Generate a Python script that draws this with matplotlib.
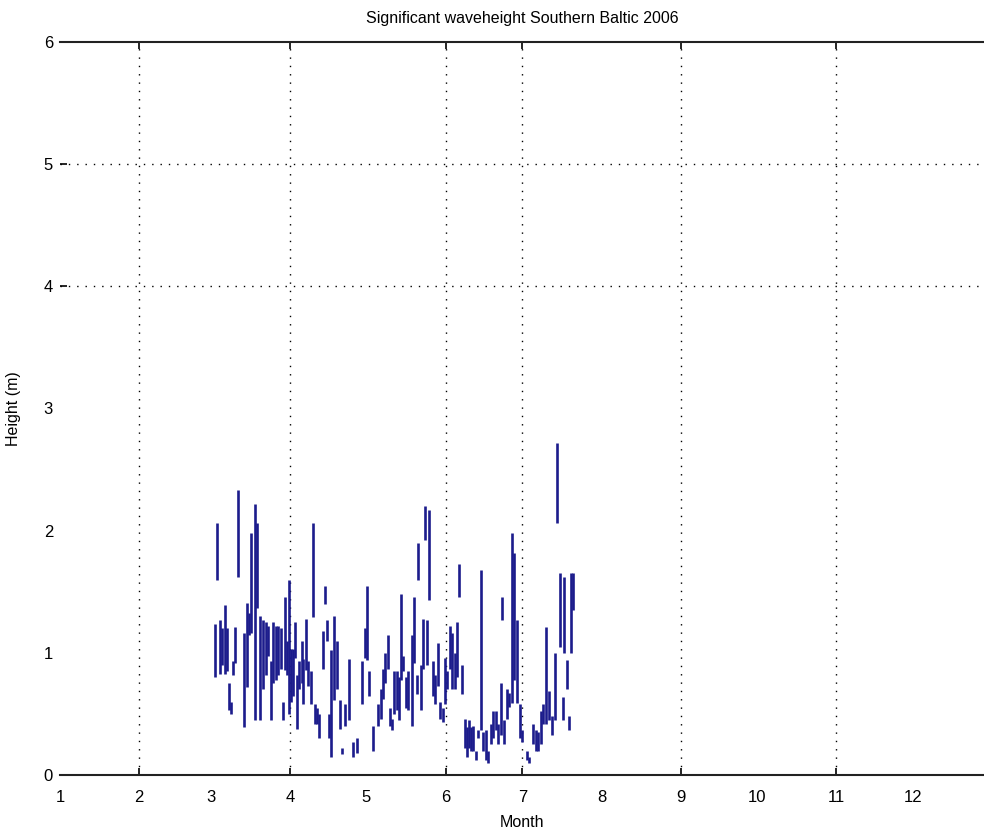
import numpy as np
import matplotlib.pyplot as plt

# --- Dados (dia do ano, altura mínima e máxima de cada traço) ---
DIA = [61.7, 62.4, 63.6, 64.4, 65.6, 66.4, 67.2, 68.0, 68.7, 69.5,
       70.7, 73.0, 74.2, 75.0, 75.8, 77.4, 78.1, 79.3, 80.5, 81.7,
       82.4, 83.6, 84.4, 85.6, 86.4, 87.5, 88.3, 89.1, 89.9, 90.7,
       91.4, 92.2, 93.0, 93.8, 94.6, 95.8, 96.1, 97.3, 98.1, 99.3,
       100.1, 100.8, 101.6, 102.4, 104.0, 104.8, 105.5, 106.3, 107.1, 108.3,
       109.5, 110.6, 111.4, 112.6, 114.0, 115.7, 117.3, 119.2, 120.4, 121.2,
       122.0, 123.6, 125.5, 126.7, 127.5, 128.3, 129.4, 130.2, 131.0, 131.8,
       133.0, 133.7, 134.5, 135.3, 136.5, 137.3, 138.8, 139.6, 140.8, 141.2,
       142.3, 143.1, 143.9, 144.7, 145.5, 147.0, 147.8, 149.0, 149.8, 151.0,
       151.7, 152.5, 153.7, 154.5, 155.7, 156.4, 157.2, 158.4, 159.6, 160.4,
       161.2, 161.9, 162.7, 163.9, 164.7, 165.8, 166.6, 167.8, 168.6, 169.8,
       170.5, 171.7, 172.5, 173.7, 174.1, 174.8, 176.0, 176.8, 178.0, 178.8,
       179.9, 181.1, 181.9, 183.9, 184.6, 186.2, 187.4, 188.2, 189.3, 190.1,
       191.3, 192.5, 193.6, 194.8, 195.6, 196.8, 198.0, 198.3, 199.5, 200.3,
       201.1, 201.9]
H_MIN = [0.80, 1.60, 0.83, 0.90, 0.83, 0.85, 0.53, 0.50, 0.82, 0.92,
         1.62, 0.39, 0.72, 1.15, 1.16, 0.45, 1.37, 0.45, 0.70, 0.82,
         0.97, 0.45, 0.75, 0.78, 0.82, 0.87, 0.45, 0.86, 0.82, 0.50,
         0.60, 0.65, 0.96, 0.38, 0.70, 0.75, 0.58, 0.86, 0.73, 0.58,
         1.29, 0.42, 0.42, 0.30, 0.87, 1.40, 1.10, 0.30, 0.15, 0.61,
         0.70, 0.38, 0.17, 0.40, 0.45, 0.15, 0.18, 0.58, 0.96, 0.94,
         0.65, 0.20, 0.40, 0.46, 0.62, 0.75, 0.87, 0.40, 0.37, 0.50,
         0.53, 0.45, 0.78, 0.85, 0.55, 0.53, 0.40, 0.92, 0.66, 1.60,
         0.53, 0.87, 1.92, 0.90, 1.43, 0.65, 0.58, 0.73, 0.46, 0.43,
         0.58, 0.70, 0.87, 0.70, 0.70, 0.80, 1.46, 0.66, 0.22, 0.15,
         0.22, 0.20, 0.20, 0.12, 0.30, 0.37, 0.20, 0.12, 0.10, 0.25,
         0.30, 0.37, 0.25, 0.33, 1.27, 0.25, 0.46, 0.56, 0.59, 0.78,
         0.59, 0.30, 0.27, 0.12, 0.10, 0.25, 0.20, 0.20, 0.25, 0.42,
         0.42, 0.45, 0.33, 0.45, 2.06, 1.05, 0.45, 1.00, 0.70, 0.37,
         1.00, 1.35]
H_MAX = [1.24, 2.06, 1.27, 1.20, 1.39, 1.20, 0.75, 0.60, 0.93, 1.21,
         2.33, 1.16, 1.41, 1.33, 1.98, 2.22, 2.06, 1.30, 1.27, 1.25,
         1.22, 0.93, 1.25, 1.22, 1.22, 1.20, 0.60, 1.46, 1.10, 1.60,
         1.03, 1.03, 1.25, 0.82, 0.93, 1.10, 0.95, 1.28, 0.93, 0.85,
         2.06, 0.58, 0.55, 0.50, 1.18, 1.55, 1.27, 0.50, 1.02, 1.30,
         1.10, 0.61, 0.22, 0.58, 0.95, 0.27, 0.30, 0.93, 1.20, 1.55,
         0.85, 0.40, 0.58, 0.70, 0.87, 1.00, 1.15, 0.55, 0.46, 0.85,
         0.85, 0.80, 1.48, 0.97, 0.80, 0.85, 1.15, 1.46, 0.82, 1.90,
         0.90, 1.28, 2.20, 1.27, 2.17, 0.93, 0.82, 1.08, 0.60, 0.55,
         0.96, 0.85, 1.22, 1.16, 1.00, 1.25, 1.73, 0.90, 0.46, 0.39,
         0.45, 0.39, 0.40, 0.20, 0.37, 1.68, 0.35, 0.37, 0.20, 0.42,
         0.52, 0.52, 0.42, 0.75, 1.46, 0.45, 0.70, 0.67, 1.98, 1.82,
         1.27, 0.58, 0.37, 0.20, 0.15, 0.42, 0.37, 0.35, 0.52, 0.58,
         1.21, 0.69, 0.48, 1.00, 2.72, 1.65, 0.64, 1.62, 0.94, 0.48,
         1.65, 1.65]

# Início de cada mês (dia do ano) e rótulos
INICIO_MES = [1, 32, 60, 91, 121, 152, 182, 213, 244, 274, 305, 335]
ROTULOS_MES = [str(m) for m in range(1, 13)]
MESES_GRADE = [2, 4, 6, 7, 9, 11]       # linhas de grade visíveis
ALTURAS = [0, 1, 2, 3, 4, 5, 6]
ALTURAS_GRADE = [4, 5]

plt.rcParams['font.family'] = ['Liberation Sans', 'DejaVu Sans']

fig = plt.figure(figsize=(9.84, 8.33), dpi=100)
ax = fig.add_axes([60 / 984, 58 / 833, 924 / 984, 733 / 833])

ax.vlines(DIA, H_MIN, H_MAX, colors='#1c1c8c', linewidth=1.9)

ax.set_xlim(1, 362.8)
ax.set_ylim(0, 6)

# Ticks principais com rótulos, grade pontilhada apenas nos menores
ax.xaxis.remove_overlapping_locs = False
ax.yaxis.remove_overlapping_locs = False
ax.set_xticks(INICIO_MES)
ax.set_xticklabels(ROTULOS_MES)
ax.set_yticks(ALTURAS)
ax.tick_params(axis='both', which='major', length=0, labelsize=12)
ax.tick_params(axis='x', which='major', pad=11)
ax.tick_params(axis='y', which='major', pad=5)
ax.set_xticks([INICIO_MES[m - 1] for m in MESES_GRADE], minor=True)
ax.set_yticks(ALTURAS_GRADE, minor=True)
ax.tick_params(axis='both', which='minor', length=5, width=1.2,
               direction='in', color='black', top=True)
ax.grid(True, which='minor', linestyle=(0, (1, 5)), color='black', linewidth=1.0)
ax.grid(False, which='major')

for lado in ['left', 'right']:
    ax.spines[lado].set_visible(False)
for lado in ['top', 'bottom']:
    ax.spines[lado].set_linewidth(1.5)
    ax.spines[lado].set_color('#222222')

ax.set_title('Significant waveheight Southern Baltic 2006', fontsize=11.5, pad=14)
ax.set_xlabel('Month', fontsize=11.5, labelpad=7)
ax.set_ylabel('Height (m)', fontsize=11.5, labelpad=16)

fig.savefig('out.png', dpi=100)
